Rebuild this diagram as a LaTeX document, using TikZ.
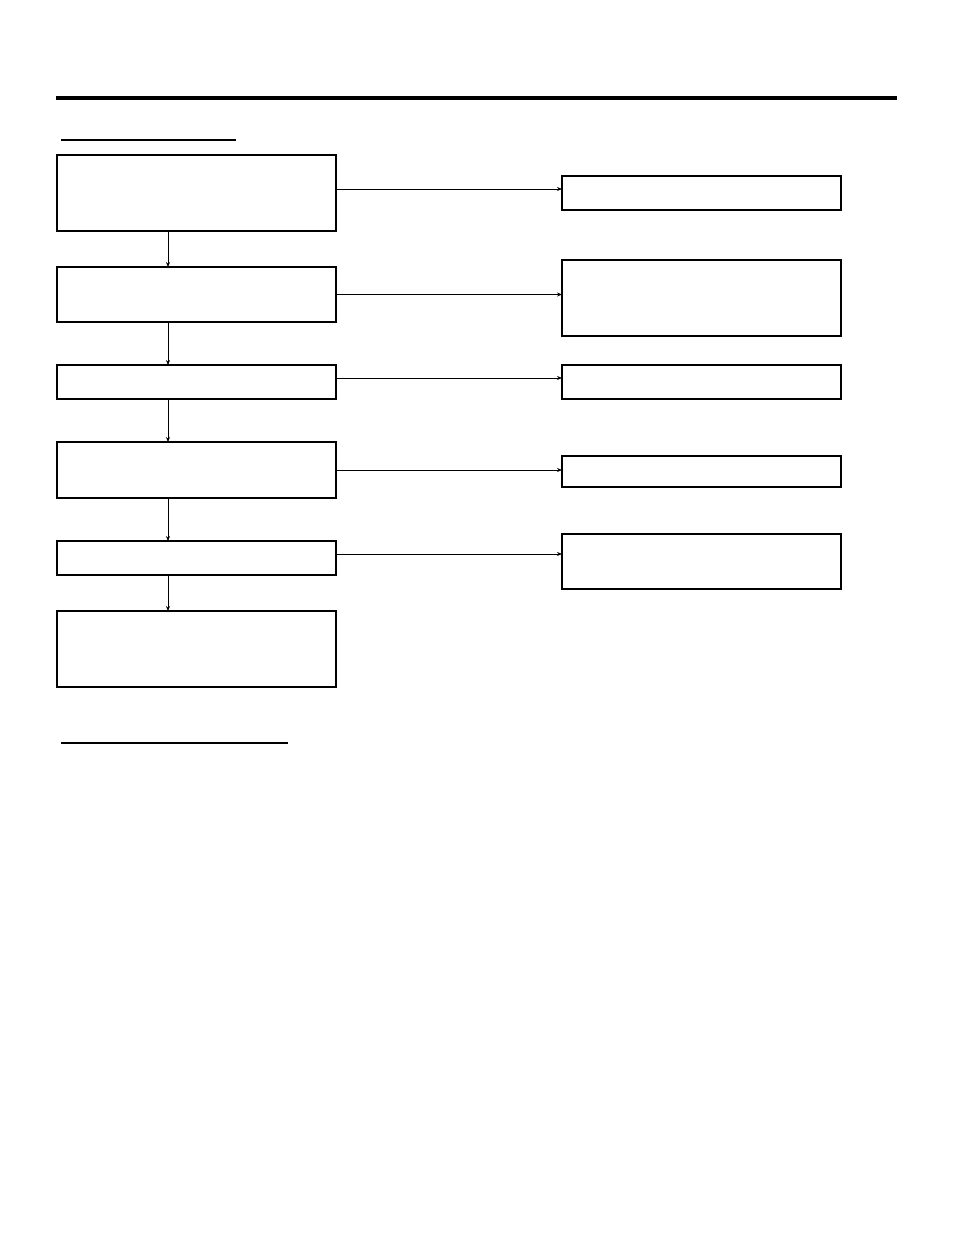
\documentclass[tikz,border=0pt]{standalone}
\usepackage{tikz}
\usetikzlibrary{arrows.meta,positioning,calc}

\begin{document}
\begin{tikzpicture}[
  x=1pt, y=-1pt,
  blk/.style={draw, line width=1.5pt, minimum width=279pt, inner sep=0pt, outer sep=0pt, anchor=north west},
  arr/.style={draw, line width=0.9pt, -{Stealth[length=5pt,width=4pt]}},
]
\useasboundingbox (0,0) rectangle (954,1235);
% header rules
\draw[line width=4pt] (56,98) -- (897,98);
\draw[line width=2pt] (61,140) -- (236,140);
\draw[line width=2pt] (61,743) -- (288,743);
% left column
\node[blk, minimum height=76pt] (l1) at (57,155) {};
\node[blk, minimum height=55pt, below=36pt of l1.south west, anchor=north west] (l2) {};
\node[blk, minimum height=34pt, below=43pt of l2.south west, anchor=north west] (l3) {};
\node[blk, minimum height=56pt, below=43pt of l3.south west, anchor=north west] (l4) {};
\node[blk, minimum height=34pt, below=43pt of l4.south west, anchor=north west] (l5) {};
\node[blk, minimum height=76pt, below=36pt of l5.south west, anchor=north west] (l6) {};
% right column
\node[blk, minimum height=34pt] (r1) at (562,176) {};
\node[blk, minimum height=76pt] (r2) at (562,260) {};
\node[blk, minimum height=34pt] (r3) at (562,365) {};
\node[blk, minimum height=31pt] (r4) at (562,456) {};
\node[blk, minimum height=55pt] (r5) at (562,534) {};
% spine
\coordinate (spine) at (168,0);
\draw[arr] (l1.south -| spine) -- (l2.north -| spine);
\draw[arr] (l2.south -| spine) -- (l3.north -| spine);
\draw[arr] (l3.south -| spine) -- (l4.north -| spine);
\draw[arr] (l4.south -| spine) -- (l5.north -| spine);
\draw[arr] (l5.south -| spine) -- (l6.north -| spine);
% branches
\draw[arr] ([yshift=4pt]l1.east) -- ([yshift=4pt]l1.east -| r1.west);
\draw[arr] (l2.east) -- (l2.east -| r2.west);
\draw[arr] ([yshift=4pt]l3.east) -- ([yshift=4pt]l3.east -| r3.west);
\draw[arr] (l4.east) -- (l4.east -| r4.west);
\draw[arr] ([yshift=4pt]l5.east) -- ([yshift=4pt]l5.east -| r5.west);
\end{tikzpicture}
\end{document}
